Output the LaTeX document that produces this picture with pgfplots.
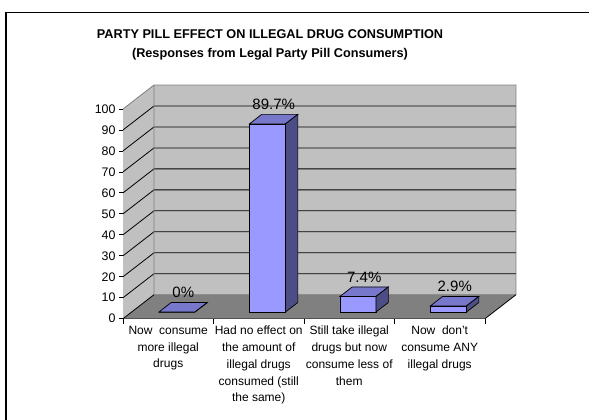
\documentclass[border=0pt]{standalone}
\usepackage{pgfplots}
\pgfplotsset{compat=1.18}
\usepackage{pgfplotstable}
\usepackage{fontspec}
\setmainfont{Liberation Sans}
\definecolor{barfront}{HTML}{9999FF}
\definecolor{bartop}{HTML}{7777CC}
\definecolor{barside}{HTML}{4D4D85}
\definecolor{wallc}{HTML}{C0C0C0}
\definecolor{floorc}{HTML}{808080}

\pgfplotstableread{
x v
0 0
1 89.7
2 7.4
3 2.9
}\datatable

\pgfdeclareplotmark{bar3d}{%
  \pgfmathsetlengthmacro\barh{\barval*2.097pt}%
  \pgfpathmoveto{\pgfpoint{-9.3pt}{6.7pt}}%
  \pgfpathlineto{\pgfpoint{26.7pt}{6.7pt}}%
  \pgfpathlineto{\pgfpoint{39.1pt}{16.2pt}}%
  \pgfpathlineto{\pgfpoint{2.9pt}{16.2pt}}%
  \pgfpathclose
  \pgfsetfillcolor{bartop}%
  \pgfusepath{fill,stroke}%
  \pgfpathmoveto{\pgfpoint{26.7pt}{6.7pt}}%
  \pgfpathlineto{\pgfpoint{39.1pt}{16.2pt}}%
  \pgfpathlineto{\pgfpoint{39.1pt}{16.2pt-\barh}}%
  \pgfpathlineto{\pgfpoint{26.7pt}{6.7pt-\barh}}%
  \pgfpathclose
  \pgfsetfillcolor{barside}%
  \pgfusepath{fill,stroke}%
}

\begin{document}
\begin{tikzpicture}
\useasboundingbox (0pt,0pt) rectangle (589pt,420pt);
\draw[line width=1.3pt] (6pt,-20pt) -- (6pt,407.5pt) -- (620pt,407.5pt);
\node[font=\bfseries\fontsize{12.7}{19}\selectfont, align=center] at (270pt,375pt)
  {PARTY PILL EFFECT ON ILLEGAL DRUG CONSUMPTION\\(Responses from Legal Party Pill Consumers)};
\begin{axis}[
  at={(123pt,101.3pt)}, anchor=south west,
  scale only axis, width=362pt, height=209.7pt,
  xmin=-0.5, xmax=3.5, ymin=0, ymax=100,
  clip=false,
  axis x line*=bottom, axis y line*=left,
  axis line style={black, line width=0.8pt},
  tick align=outside,
  ytick={0,10,...,100},
  major tick length=4pt,
  minor tick length=5pt,
  tick style={black, line width=0.8pt},
  xtick={0,1,2,3},
  minor xtick={-0.5,0.5,1.5,2.5,3.5},
  major x tick style={draw=none},
  xticklabels={{Now\ \ consume\\more illegal\\drugs},
               {Had no effect on\\the amount of\\illegal drugs\\consumed (still\\the same)},
               {Still take illegal\\drugs but now\\consume less of\\them},
               {Now\ \ don't\\consume ANY\\illegal drugs}},
  x tick label style={align=center, font=\fontsize{12}{16.7}\selectfont},
  y tick label style={font=\fontsize{12.4}{14}\selectfont},
  /pgf/number format/assume math mode=true,
]
% walls and floor
\addplot[fill=wallc, draw=none, forget plot] coordinates {(-0.5,0) (-0.5,100) (-0.1575,111.44) (-0.1575,11.44)} -- cycle;
\addplot[fill=wallc, draw=none, forget plot] coordinates {(-0.1575,11.44) (3.8425,11.44) (3.8425,111.44) (-0.1575,111.44)} -- cycle;
\addplot[fill=floorc, draw=none, forget plot] coordinates {(-0.5,0) (3.5,0) (3.8425,11.44) (-0.1575,11.44)} -- cycle;
% gridlines
\addplot[black, line width=0.8pt, forget plot] coordinates {(-0.5,10) (-0.1575,21.44) (3.8425,21.44)};
\addplot[black, line width=0.8pt, forget plot] coordinates {(-0.5,20) (-0.1575,31.44) (3.8425,31.44)};
\addplot[black, line width=0.8pt, forget plot] coordinates {(-0.5,30) (-0.1575,41.44) (3.8425,41.44)};
\addplot[black, line width=0.8pt, forget plot] coordinates {(-0.5,40) (-0.1575,51.44) (3.8425,51.44)};
\addplot[black, line width=0.8pt, forget plot] coordinates {(-0.5,50) (-0.1575,61.44) (3.8425,61.44)};
\addplot[black, line width=0.8pt, forget plot] coordinates {(-0.5,60) (-0.1575,71.44) (3.8425,71.44)};
\addplot[black, line width=0.8pt, forget plot] coordinates {(-0.5,70) (-0.1575,81.44) (3.8425,81.44)};
\addplot[black, line width=0.8pt, forget plot] coordinates {(-0.5,80) (-0.1575,91.44) (3.8425,91.44)};
\addplot[black, line width=0.8pt, forget plot] coordinates {(-0.5,90) (-0.1575,101.44) (3.8425,101.44)};
% wall edges
\addplot[floorc, line width=0.8pt, forget plot] coordinates {(-0.5,100) (-0.1575,111.44) (3.8425,111.44) (3.8425,11.44) (-0.1575,11.44) (-0.1575,111.44)};
\addplot[black, line width=0.8pt, forget plot] coordinates {(-0.5,0) (-0.1575,11.44)};
\addplot[black, line width=0.8pt, forget plot] coordinates {(3.5,0) (3.8425,11.44)};
% bars: front faces
\addplot[ybar, bar width=36pt, bar shift=8.7pt, yshift=6.7pt, fill=barfront, draw=black, line width=0.7pt, forget plot]
  table[x=x, y=v] {\datatable};
% bars: top and side faces, labels
\addplot[only marks, mark=bar3d, mark options={draw=black, line width=0.7pt},
  visualization depends on={rawy \as \barval},
  nodes near coords={\pgfmathprintnumber{\pgfplotspointmeta}\%},
  nodes near coords style={anchor=center, xshift=15pt, yshift=26pt, font=\fontsize{15}{18}\selectfont},
  forget plot]
  table[x=x, y=v] {\datatable};
\end{axis}
\end{tikzpicture}
\end{document}
